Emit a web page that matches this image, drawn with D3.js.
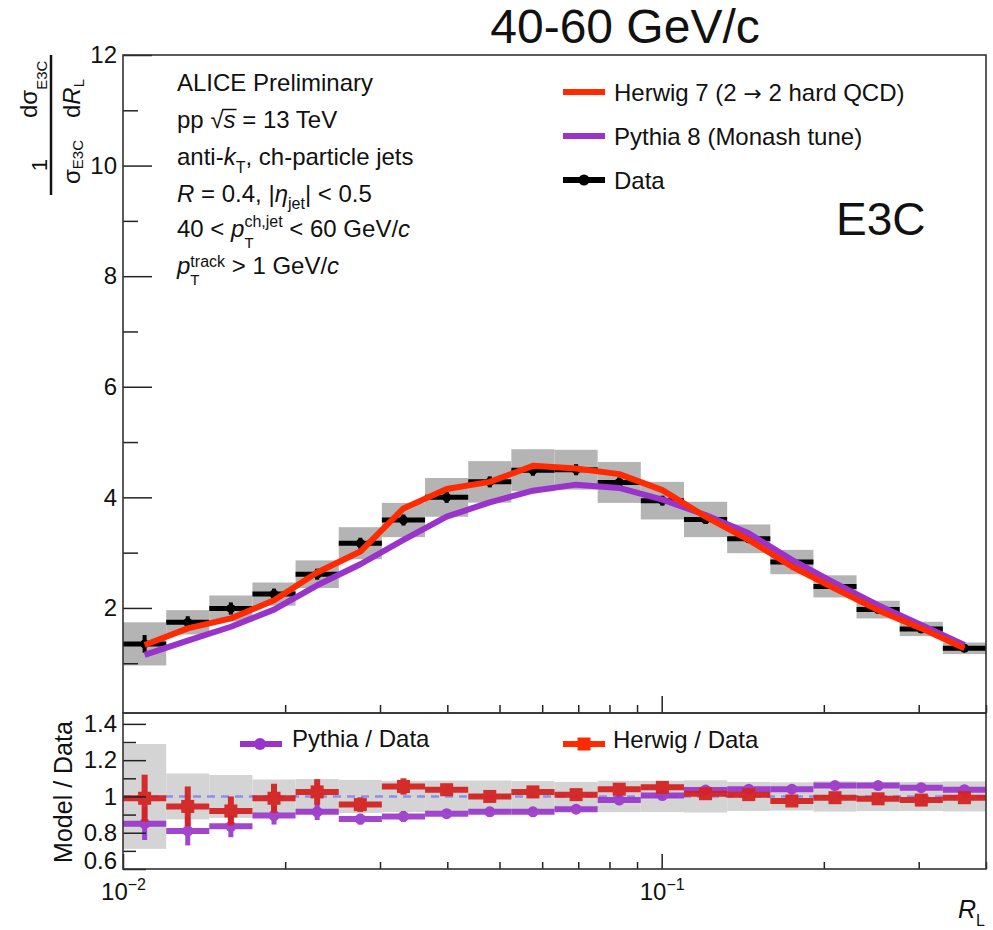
<!DOCTYPE html>
<html>
<head>
<meta charset="utf-8">
<script src="https://cdn.jsdelivr.net/npm/d3@7"></script>
<style>
  body { margin: 0; background: #fff; }
  svg { display: block; }
  text { font-family: "Liberation Sans", Arial, Helvetica, sans-serif; fill: #111; white-space: pre; }
</style>
</head>
<body>
<svg id="chart" width="993" height="930"></svg>
<script>
// R_L binning (log-spaced edges)
const binEdges = [0.0100, 0.01203, 0.01446, 0.01739, 0.02091, 0.02515, 0.03024, 0.03637, 0.04374, 0.05259,
                  0.06325, 0.07606, 0.09146, 0.1100, 0.1323, 0.1591, 0.1913, 0.2300, 0.2766, 0.3326, 0.4000];

// Normalised E3C distribution, 40 < pT(ch jet) < 60 GeV/c
const dataValues = [1.35, 1.74, 1.99, 2.25, 2.61, 3.17, 3.59, 4.00, 4.28, 4.49,
                    4.50, 4.27, 3.94, 3.60, 3.25, 2.83, 2.39, 1.97, 1.62, 1.27];
const dataStat   = [0.16, 0.11, 0.11, 0.10, 0.10, 0.10, 0.10, 0.10, 0.10, 0.10,
                    0.10, 0.09, 0.09, 0.08, 0.07, 0.06, 0.05, 0.05, 0.04, 0.04];
const dataSyst   = [0.39, 0.22, 0.235, 0.21, 0.25, 0.29, 0.31, 0.35, 0.375, 0.38,
                    0.36, 0.37, 0.34, 0.32, 0.26, 0.22, 0.20, 0.16, 0.13, 0.105];

const herwigValues = [1.33, 1.63, 1.81, 2.14, 2.64, 3.02, 3.80, 4.15, 4.28, 4.57,
                      4.52, 4.42, 4.13, 3.65, 3.23, 2.75, 2.35, 1.96, 1.63, 1.27];
const pythiaValues = [1.15, 1.41, 1.66, 1.97, 2.41, 2.79, 3.23, 3.65, 3.91, 4.12,
                      4.23, 4.17, 3.96, 3.68, 3.35, 2.87, 2.45, 2.05, 1.69, 1.33];

// Model / Data ratios
const pythiaRatio    = [0.85, 0.81, 0.835, 0.895, 0.915, 0.875, 0.89, 0.905, 0.915, 0.915,
                        0.93, 0.98, 1.005, 1.035, 1.04, 1.04, 1.06, 1.06, 1.048, 1.037];
const pythiaRatioErr = [0.09, 0.08, 0.06, 0.05, 0.045, 0.03, 0.03, 0.025, 0.025, 0.02,
                        0.02, 0.02, 0.02, 0.02, 0.02, 0.02, 0.02, 0.02, 0.02, 0.02];
const herwigRatio    = [0.99, 0.945, 0.92, 0.99, 1.025, 0.955, 1.055, 1.037, 1.00, 1.025,
                        1.01, 1.04, 1.05, 1.015, 1.01, 0.975, 0.993, 0.987, 0.98, 0.993];
const herwigRatioErr = [0.13, 0.11, 0.08, 0.08, 0.07, 0.04, 0.045, 0.03, 0.03, 0.03,
                        0.03, 0.03, 0.03, 0.03, 0.03, 0.03, 0.03, 0.03, 0.03, 0.03];

// Axis ticks
const yTopMajor = [2, 4, 6, 8, 10, 12];
const yTopMinor = [1, 3, 5, 7, 9, 11];
const yRatioMajor = [0.6, 0.8, 1.0, 1.2, 1.4];
const yRatioMinor = [0.7, 0.9, 1.1, 1.3];
const xMajor = [0.01, 0.1];
const xMinor = [0.02, 0.03, 0.04, 0.05, 0.06, 0.07, 0.08, 0.09, 0.2, 0.3, 0.4];
const xLabelExp = ["\u22122", "\u22121"];

// Colours
const cHerwig = "#ff2a00";
const cPythia = "#9933cc";
const cHerwigRatio = "#d52222";

const L = 123, R = 986, T = 55, MID = 713, B = 869;

const svg = d3.select("#chart");

const x = d3.scaleLog().domain([0.01, 0.4]).range([L, R]);
const yTop = d3.scaleLinear().domain([0.1, 12]).range([MID, T]);
const yRat = d3.scaleLinear().domain([0.6, 1.46]).range([B, MID]);

const bins = binEdges.slice(0, -1).map((lo, i) => {
  const hi = binEdges[i + 1];
  return {
    lo, hi, c: Math.sqrt(lo * hi),
    v: dataValues[i], stat: dataStat[i], syst: dataSyst[i],
    herwig: herwigValues[i], pythia: pythiaValues[i],
    pr: pythiaRatio[i], pre: pythiaRatioErr[i],
    hr: herwigRatio[i], hre: herwigRatioErr[i]
  };
});

// ---------- upper panel ----------
const upperG = svg.append("g");

// systematic boxes
upperG.selectAll("rect.syst").data(bins).join("rect")
  .attr("x", d => x(d.lo)).attr("width", d => x(d.hi) - x(d.lo))
  .attr("y", d => yTop(d.v + d.syst)).attr("height", d => yTop(d.v - d.syst) - yTop(d.v + d.syst))
  .attr("fill", "#b4b4b4");

// data: bin-width bars, stat errors, markers
upperG.selectAll("line.xbar").data(bins).join("line")
  .attr("x1", d => x(d.lo)).attr("x2", d => x(d.hi))
  .attr("y1", d => yTop(d.v)).attr("y2", d => yTop(d.v))
  .attr("stroke", "#000").attr("stroke-width", 5);
upperG.selectAll("line.stat").data(bins).join("line")
  .attr("x1", d => x(d.c)).attr("x2", d => x(d.c))
  .attr("y1", d => yTop(d.v - d.stat)).attr("y2", d => yTop(d.v + d.stat))
  .attr("stroke", "#000").attr("stroke-width", 4);
upperG.selectAll("circle.pt").data(bins).join("circle")
  .attr("cx", d => x(d.c)).attr("cy", d => yTop(d.v)).attr("r", 4.5).attr("fill", "#000");

// model curves
const modelLine = key => d3.line().x(d => x(d.c)).y(d => yTop(d[key]));
upperG.append("path").datum(bins).attr("d", modelLine("pythia"))
  .attr("fill", "none").attr("stroke", cPythia).attr("stroke-width", 6).attr("stroke-linejoin", "round");
upperG.append("path").datum(bins).attr("d", modelLine("herwig"))
  .attr("fill", "none").attr("stroke", cHerwig).attr("stroke-width", 6).attr("stroke-linejoin", "round");

// ---------- ratio panel ----------
const lowerG = svg.append("g");

lowerG.selectAll("rect.band").data(bins).join("rect")
  .attr("x", d => x(d.lo)).attr("width", d => x(d.hi) - x(d.lo))
  .attr("y", d => yRat(1 + d.syst / d.v)).attr("height", d => yRat(1 - d.syst / d.v) - yRat(1 + d.syst / d.v))
  .attr("fill", "#d4d4d4");

lowerG.append("line")
  .attr("x1", L).attr("x2", R).attr("y1", yRat(1)).attr("y2", yRat(1))
  .attr("stroke", "#8c8cf0").attr("stroke-width", 2.5).attr("stroke-dasharray", "8,6");

const pyG = lowerG.append("g").attr("opacity", 0.9);
pyG.selectAll("line.h").data(bins).join("line")
  .attr("x1", d => x(d.lo)).attr("x2", d => x(d.hi))
  .attr("y1", d => yRat(d.pr)).attr("y2", d => yRat(d.pr))
  .attr("stroke", cPythia).attr("stroke-width", 6);
pyG.selectAll("line.v").data(bins).join("line")
  .attr("x1", d => x(d.c)).attr("x2", d => x(d.c))
  .attr("y1", d => yRat(d.pr - d.pre)).attr("y2", d => yRat(d.pr + d.pre))
  .attr("stroke", cPythia).attr("stroke-width", 5);
pyG.selectAll("circle").data(bins).join("circle")
  .attr("cx", d => x(d.c)).attr("cy", d => yRat(d.pr)).attr("r", 5.5).attr("fill", cPythia);

const hwG = lowerG.append("g").attr("opacity", 0.95);
hwG.selectAll("line.h").data(bins).join("line")
  .attr("x1", d => x(d.lo)).attr("x2", d => x(d.hi))
  .attr("y1", d => yRat(d.hr)).attr("y2", d => yRat(d.hr))
  .attr("stroke", cHerwigRatio).attr("stroke-width", 6);
hwG.selectAll("line.v").data(bins).join("line")
  .attr("x1", d => x(d.c)).attr("x2", d => x(d.c))
  .attr("y1", d => yRat(d.hr - d.hre)).attr("y2", d => yRat(d.hr + d.hre))
  .attr("stroke", cHerwigRatio).attr("stroke-width", 6);
hwG.selectAll("rect").data(bins).join("rect")
  .attr("x", d => x(d.c) - 6.5).attr("y", d => yRat(d.hr) - 6.5)
  .attr("width", 13).attr("height", 13).attr("fill", cHerwigRatio);

// ---------- axes ----------
function styleAxis(g) {
  g.select(".domain").remove();
  g.selectAll(".tick line").attr("stroke", "#222").attr("stroke-width", 1.5);
  g.selectAll(".tick text").attr("font-size", 24).attr("fill", "#111")
    .attr("font-family", "\"Liberation Sans\", Arial, sans-serif");
}

svg.append("g").attr("transform", `translate(${L},0)`)
  .call(d3.axisLeft(yTop).tickValues(yTopMajor).tickSize(-29).tickSizeOuter(0).tickPadding(6))
  .call(styleAxis);
svg.append("g").attr("transform", `translate(${L},0)`)
  .call(d3.axisLeft(yTop).tickValues(yTopMinor).tickSize(-15).tickSizeOuter(0).tickFormat(""))
  .call(styleAxis);

svg.append("g").attr("transform", `translate(${L},0)`)
  .call(d3.axisLeft(yRat).tickValues(yRatioMajor).tickSize(-23).tickSizeOuter(0).tickPadding(6)
        .tickFormat(d => String(+d.toFixed(1))))
  .call(styleAxis)
  .call(g => g.selectAll(".tick text").filter(d => d === 0.6).attr("y", -8));
svg.append("g").attr("transform", `translate(${L},0)`)
  .call(d3.axisLeft(yRat).tickValues(yRatioMinor).tickSize(-13).tickSizeOuter(0).tickFormat(""))
  .call(styleAxis);

// x ticks on the upper panel's lower edge
svg.append("g").attr("transform", `translate(0,${MID})`)
  .call(d3.axisBottom(x).tickValues(xMinor).tickSize(-8).tickSizeOuter(0).tickFormat(""))
  .call(styleAxis);
svg.append("g").attr("transform", `translate(0,${MID})`)
  .call(d3.axisBottom(x).tickValues([0.1]).tickSize(-17).tickSizeOuter(0).tickFormat(""))
  .call(styleAxis);

// x ticks and labels on the ratio panel
svg.append("g").attr("transform", `translate(0,${B})`)
  .call(d3.axisBottom(x).tickValues(xMinor).tickSize(-7).tickSizeOuter(0).tickFormat(""))
  .call(styleAxis);
svg.append("g").attr("transform", `translate(0,${B})`)
  .call(d3.axisBottom(x).tickValues(xMajor).tickSize(-15).tickSizeOuter(0).tickPadding(14))
  .call(styleAxis)
  .call(g => g.selectAll(".tick text").each(function(d, i) {
    const t = d3.select(this).text(null).attr("text-anchor", "middle");
    t.append("tspan").text("10");
    t.append("tspan").attr("font-size", 16).attr("dy", -10).text(xLabelExp[i]);
  }));

// frames
svg.append("rect").attr("x", L).attr("y", T).attr("width", R - L).attr("height", MID - T)
  .attr("fill", "none").attr("stroke", "#333").attr("stroke-width", 1.6);
svg.append("rect").attr("x", L).attr("y", MID).attr("width", R - L).attr("height", B - MID)
  .attr("fill", "none").attr("stroke", "#333").attr("stroke-width", 1.6);

// ---------- rich text helper ----------
// segments: {t, it, size, shift (down positive), back (overlay on previous tspan), font}
function richText(parent, xPos, yPos, segs, baseSize) {
  const txt = parent.append("text").attr("x", xPos).attr("y", yPos).attr("font-size", baseSize);
  let cur = 0, prev = null;
  segs.forEach(s => {
    const shift = s.shift || 0;
    const ts = txt.append("tspan").text(s.t);
    if (s.it) ts.attr("font-style", "italic");
    if (s.size) ts.attr("font-size", s.size);
    if (s.font) ts.attr("font-family", s.font);
    if (shift !== cur) ts.attr("dy", shift - cur);
    if (s.back && prev) ts.attr("dx", -prev.node().getComputedTextLength());
    cur = shift;
    prev = ts;
  });
  return txt;
}

// title
svg.append("text").attr("x", 625).attr("y", 43).attr("text-anchor", "middle")
  .attr("font-size", 48).text("40-60 GeV/c");

// E3C tag
svg.append("text").attr("x", 836).attr("y", 235).attr("font-size", 46).text("E3C");

// info block
const info = svg.append("g");
richText(info, 177, 91, [{t: "ALICE Preliminary"}], 24);
const ppLine = richText(info, 177, 128, [{t: "pp "}, {t: "\u221A"}, {t: "s", it: true}, {t: " = 13 TeV"}], 24);
{
  const n = ppLine.node();
  const a = n.getStartPositionOfChar(4), b = n.getEndPositionOfChar(4);
  info.append("line").attr("x1", a.x - 1).attr("x2", b.x + 1).attr("y1", 128 - 18.5).attr("y2", 128 - 18.5)
    .attr("stroke", "#111").attr("stroke-width", 1.5);
}
richText(info, 177, 165, [{t: "anti-"}, {t: "k", it: true}, {t: "T", size: 16, shift: 8}, {t: ", ch-particle jets"}], 24);
richText(info, 177, 202, [{t: "R", it: true}, {t: " = 0.4, |"}, {t: "\u03B7", it: true},
  {t: "jet", size: 16, shift: 7}, {t: "| < 0.5"}], 24);
richText(info, 177, 237, [{t: "40 < "}, {t: "p", it: true}, {t: "T", size: 15, shift: 11},
  {t: "ch,jet", size: 16, shift: -10, back: true}, {t: " < 60 GeV/"}, {t: "c", it: true}], 24);
richText(info, 177, 274, [{t: "p", it: true}, {t: "T", size: 15, shift: 11},
  {t: "track", size: 16, shift: -7, back: true}, {t: " > 1 GeV/"}, {t: "c", it: true}], 24);

// upper legend
const legTop = [
  {segs: [{t: "Herwig 7 (2 "}, {t: "\u2192", font: "DejaVu Sans", size: 22}, {t: " 2 hard QCD)"}], color: cHerwig, y: 92, dot: false},
  {segs: [{t: "Pythia 8 (Monash tune)"}], color: cPythia, y: 136, dot: false},
  {segs: [{t: "Data"}], color: "#000", y: 180, dot: true}
];
const lg = svg.append("g");
legTop.forEach(e => {
  lg.append("line").attr("x1", 563).attr("x2", 605).attr("y1", e.y).attr("y2", e.y)
    .attr("stroke", e.color).attr("stroke-width", 6);
  if (e.dot) lg.append("circle").attr("cx", 584).attr("cy", e.y).attr("r", 5.5).attr("fill", e.color);
  richText(lg, 614, e.y + 9, e.segs, 24);
});

// ratio legend
const lr = svg.append("g");
lr.append("line").attr("x1", 240).attr("x2", 282).attr("y1", 744).attr("y2", 744)
  .attr("stroke", cPythia).attr("stroke-width", 6);
lr.append("circle").attr("cx", 260).attr("cy", 744).attr("r", 6).attr("fill", cPythia);
lr.append("text").attr("x", 292).attr("y", 747).attr("font-size", 24).text("Pythia / Data");
lr.append("line").attr("x1", 563).attr("x2", 605).attr("y1", 744).attr("y2", 744)
  .attr("stroke", "#ff2a00").attr("stroke-width", 6);
lr.append("rect").attr("x", 577.5).attr("y", 737.5).attr("width", 13).attr("height", 13).attr("fill", "#ff2a00");
lr.append("text").attr("x", 613).attr("y", 748).attr("font-size", 24).text("Herwig / Data");

// axis titles
richText(svg, 985, 918, [{t: "R", it: true}, {t: "L", size: 16, shift: 8}], 25).attr("text-anchor", "end");

svg.append("text").attr("transform", "translate(72,792) rotate(-90)").attr("text-anchor", "middle")
  .attr("font-size", 25).text("Model / Data");

// y-axis title of the upper panel: (1/sigma) dsigma/dR_L
const yl = svg.append("g").attr("transform", "translate(51,195) rotate(-90)");
yl.append("line").attr("x1", 0).attr("x2", 140).attr("y1", 0).attr("y2", 0)
  .attr("stroke", "#111").attr("stroke-width", 2.5);
yl.append("text").attr("x", 30).attr("y", -4).attr("text-anchor", "middle").attr("font-size", 22).text("1");
richText(yl, 11, 29, [{t: "\u03C3"}, {t: "E3C", size: 15, shift: 3}], 24);
richText(yl, 77, -14, [{t: "d\u03C3"}, {t: "E3C", size: 15, shift: 10}], 24);
richText(yl, 77, 29, [{t: "d"}, {t: "R", it: true}, {t: "L", size: 15, shift: 4}], 24);
</script>
</body>
</html>
